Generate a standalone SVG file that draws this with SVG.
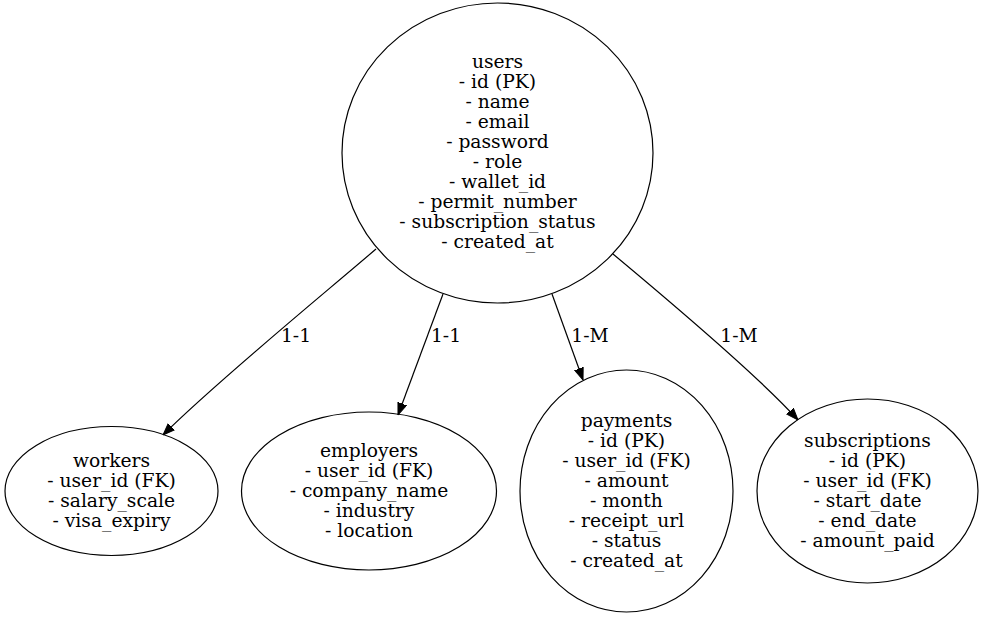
<svg xmlns="http://www.w3.org/2000/svg" width="984" height="618" viewBox="0 0 984 618">
<defs>
<marker id="arr" markerWidth="12" markerHeight="10" refX="12" refY="5" orient="auto" markerUnits="userSpaceOnUse">
<path d="M0,0.5 L12,5 L0,9.5 Z" fill="#000" stroke="#000" stroke-width="1"/>
</marker>
<style>
.n ellipse{fill:none;stroke:#000;stroke-width:1.2}
text{font-family:"DejaVu Serif","Liberation Serif",serif;font-size:18.7px;fill:#000;text-anchor:middle}
.e path{fill:none;stroke:#000;stroke-width:1.2;marker-end:url(#arr)}
</style>
</defs>
<rect width="984" height="618" fill="#fff"/>
<g id="users" class="n">
<ellipse cx="497.5" cy="153" rx="155.5" ry="150"/>
<text x="497.5" y="68">users</text>
<text x="497.5" y="88">- id (PK)</text>
<text x="497.5" y="108">- name</text>
<text x="497.5" y="128">- email</text>
<text x="497.5" y="148">- password</text>
<text x="497.5" y="168">- role</text>
<text x="497.5" y="188">- wallet_id</text>
<text x="497.5" y="208">- permit_number</text>
<text x="497.5" y="228">- subscription_status</text>
<text x="497.5" y="248">- created_at</text>
</g>
<g id="workers" class="n">
<ellipse cx="111.5" cy="491" rx="106.5" ry="64.5"/>
<text x="111.5" y="467">workers</text>
<text x="111.5" y="487">- user_id (FK)</text>
<text x="111.5" y="507">- salary_scale</text>
<text x="111.5" y="527">- visa_expiry</text>
</g>
<g id="employers" class="n">
<ellipse cx="369" cy="491" rx="127.5" ry="79"/>
<text x="369" y="457">employers</text>
<text x="369" y="477">- user_id (FK)</text>
<text x="369" y="497">- company_name</text>
<text x="369" y="517">- industry</text>
<text x="369" y="537">- location</text>
</g>
<g id="payments" class="n">
<ellipse cx="626.5" cy="491" rx="106.5" ry="121"/>
<text x="626.5" y="427">payments</text>
<text x="626.5" y="447">- id (PK)</text>
<text x="626.5" y="467">- user_id (FK)</text>
<text x="626.5" y="487">- amount</text>
<text x="626.5" y="507">- month</text>
<text x="626.5" y="527">- receipt_url</text>
<text x="626.5" y="547">- status</text>
<text x="626.5" y="567">- created_at</text>
</g>
<g id="subscriptions" class="n">
<ellipse cx="867.5" cy="491" rx="110.5" ry="92"/>
<text x="867.5" y="447">subscriptions</text>
<text x="867.5" y="467">- id (PK)</text>
<text x="867.5" y="487">- user_id (FK)</text>
<text x="867.5" y="507">- start_date</text>
<text x="867.5" y="527">- end_date</text>
<text x="867.5" y="547">- amount_paid</text>
</g>
<g id="connectors" class="e">
<path d="M376,249 C326,292 216,382 163,435"/>
<path d="M443,294 L398,415"/>
<path d="M552,294 L583,380"/>
<path d="M613,254 C673,304 762,380 798,420"/>
<text x="296" y="342">1-1</text>
<text x="446" y="342">1-1</text>
<text x="590" y="342">1-M</text>
<text x="739" y="342">1-M</text>
</g>
</svg>
